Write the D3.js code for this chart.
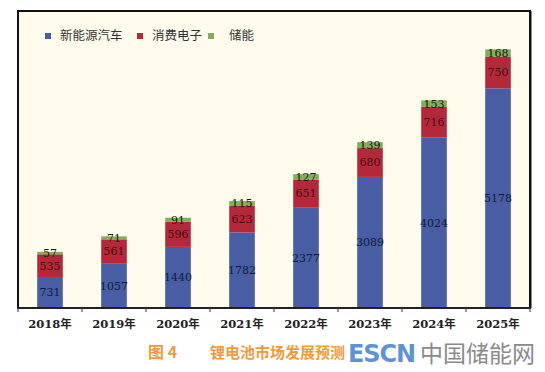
<!DOCTYPE html>
<html>
<head>
<meta charset="utf-8">
<script src="https://cdn.jsdelivr.net/npm/d3@7"></script>
<style>
  body { margin: 0; background: #fff; }
  svg { display: block; }
</style>
</head>
<body>
<div id="chart"></div>
<script>
(function () {

  // data
  const years = ["2018年", "2019年", "2020年", "2021年", "2022年", "2023年", "2024年", "2025年"]
  const ev = [731, 1057, 1440, 1782, 2377, 3089, 4024, 5178]
  const consumer = [535, 561, 596, 623, 651, 680, 716, 750]
  const storage = [57, 71, 91, 115, 127, 139, 153, 168]
  const seriesNames = ["新能源汽车", "消费电子", "储能"]

  const colors = ["#485da3", "#b3293b", "#82ad5a"]
  const labelColors = ["#101a40", "#4a0a10", "#10200a"]

  const W = 545, H = 372
  const frame = { left: 18, top: 11, right: 530, bottom: 308 }

  const svg = d3.select("#chart").append("svg")
      .attr("width", W)
      .attr("height", H)

  // cream plot area
  svg.append("rect")
    .attr("x", frame.left)
    .attr("y", frame.top)
    .attr("width", frame.right - frame.left)
    .attr("height", frame.bottom - frame.top)
    .attr("fill", "#fffbec")
    .attr("stroke", "#111")
    .attr("stroke-width", 2)

  // slightly heavier right edge, like the picture
  svg.append("line")
    .attr("x1", frame.right + 0.5).attr("x2", frame.right + 0.5)
    .attr("y1", frame.top).attr("y2", frame.bottom)
    .attr("stroke", "#111").attr("stroke-width", 2)

  const x = d3.scaleBand()
    .domain(years)
    .range([frame.left, frame.right])
    .paddingInner(0.6)
    .paddingOuter(0.3)

  const y = d3.scaleLinear()
    .domain([0, 7000])
    .range([frame.bottom, frame.top])

  // stacked data
  const rows = years.map((yr, i) => ({ year: yr, s0: ev[i], s1: consumer[i], s2: storage[i] }))
  const stack = d3.stack().keys(["s0", "s1", "s2"])(rows)

  const layers = svg.selectAll(".layer")
    .data(stack)
    .enter().append("g")
    .attr("class", "layer")
    .attr("fill", (d, k) => colors[k])

  layers.selectAll("rect")
    .data(d => d)
    .enter().append("rect")
    .attr("x", d => x(d.data.year))
    .attr("width", x.bandwidth())
    .attr("y", d => y(d[1]))
    .attr("height", d => y(d[0]) - y(d[1]))

  // value labels centred in each segment
  stack.forEach((layer, k) => {
    svg.selectAll(".lbl" + k)
      .data(layer)
      .enter().append("text")
      .attr("class", "lbl" + k)
      .attr("x", d => x(d.data.year) + x.bandwidth() / 2)
      .attr("y", d => (y(d[0]) + y(d[1])) / 2)
      .attr("dy", "0.36em")
      .attr("text-anchor", "middle")
      .attr("font-family", "'DejaVu Serif', serif")
      .attr("font-size", 11)
      .attr("fill", labelColors[k])
      .text(d => d[1] - d[0])
  })

  // x axis with ticks on the band edges
  const band = d3.scaleLinear().domain([0, years.length]).range([frame.left, frame.right])

  svg.append("line")
    .attr("x1", frame.left - 1).attr("x2", frame.right + 1)
    .attr("y1", frame.bottom).attr("y2", frame.bottom)
    .attr("stroke", "#222").attr("stroke-width", 2)

  svg.selectAll(".tick-mark")
    .data(d3.range(years.length + 1))
    .enter().append("line")
    .attr("class", "tick-mark")
    .attr("x1", d => band(d)).attr("x2", d => band(d))
    .attr("y1", frame.bottom).attr("y2", frame.bottom + 4)
    .attr("stroke", "#333").attr("stroke-width", 1)

  svg.selectAll(".cat")
    .data(years)
    .enter().append("text")
    .attr("class", "cat")
    .attr("x", d => x(d) + x.bandwidth() / 2)
    .attr("y", 328)
    .attr("text-anchor", "middle")
    .attr("font-family", "'DejaVu Serif', 'Noto Sans CJK SC', serif")
    .attr("font-weight", "bold")
    .attr("font-size", 11.5)
    .attr("fill", "#222")
    .text(d => d)

  // legend
  const legendX = [48, 140, 211]
  const legend = svg.selectAll(".legend")
    .data(seriesNames)
    .enter().append("g")
    .attr("class", "legend")
    .attr("transform", (d, i) => "translate(" + legendX[i] + ",36)")

  legend.append("rect")
    .attr("x", -3).attr("y", -3)
    .attr("width", 6).attr("height", 6)
    .attr("fill", (d, i) => colors[i])

  legend.append("text")
    .attr("x", (d, i) => i === 2 ? 18 : 12)
    .attr("dy", "0.35em")
    .attr("font-family", "'Noto Sans CJK SC', sans-serif")
    .attr("font-size", 12.5)
    .attr("fill", "#333")
    .text(d => d)

  // caption
  svg.append("text")
    .attr("x", 148).attr("y", 358)
    .attr("font-family", "'Noto Sans CJK SC', sans-serif")
    .attr("font-weight", "bold")
    .attr("font-size", 16)
    .attr("fill", "#ef9a3c")
    .text("图 4")

  svg.append("text")
    .attr("x", 210).attr("y", 358)
    .attr("font-family", "'Noto Sans CJK SC', sans-serif")
    .attr("font-weight", "bold")
    .attr("font-size", 15)
    .attr("fill", "#ef9a3c")
    .text("锂电池市场发展预测")

  // watermark
  svg.append("text")
    .attr("x", 348).attr("y", 362)
    .attr("font-family", "'DejaVu Sans', sans-serif")
    .attr("font-weight", "bold")
    .attr("font-size", 24)
    .attr("fill", "#3f7fcf")
    .attr("fill-opacity", 0.85)
    .attr("textLength", 68)
    .text("ESCN")

  svg.append("text")
    .attr("x", 420).attr("y", 362)
    .attr("font-family", "'Noto Sans CJK SC', sans-serif")
    .attr("font-size", 23)
    .attr("fill", "#8a8a8a")
    .text("中国储能网")

})();
</script>
</body>
</html>
